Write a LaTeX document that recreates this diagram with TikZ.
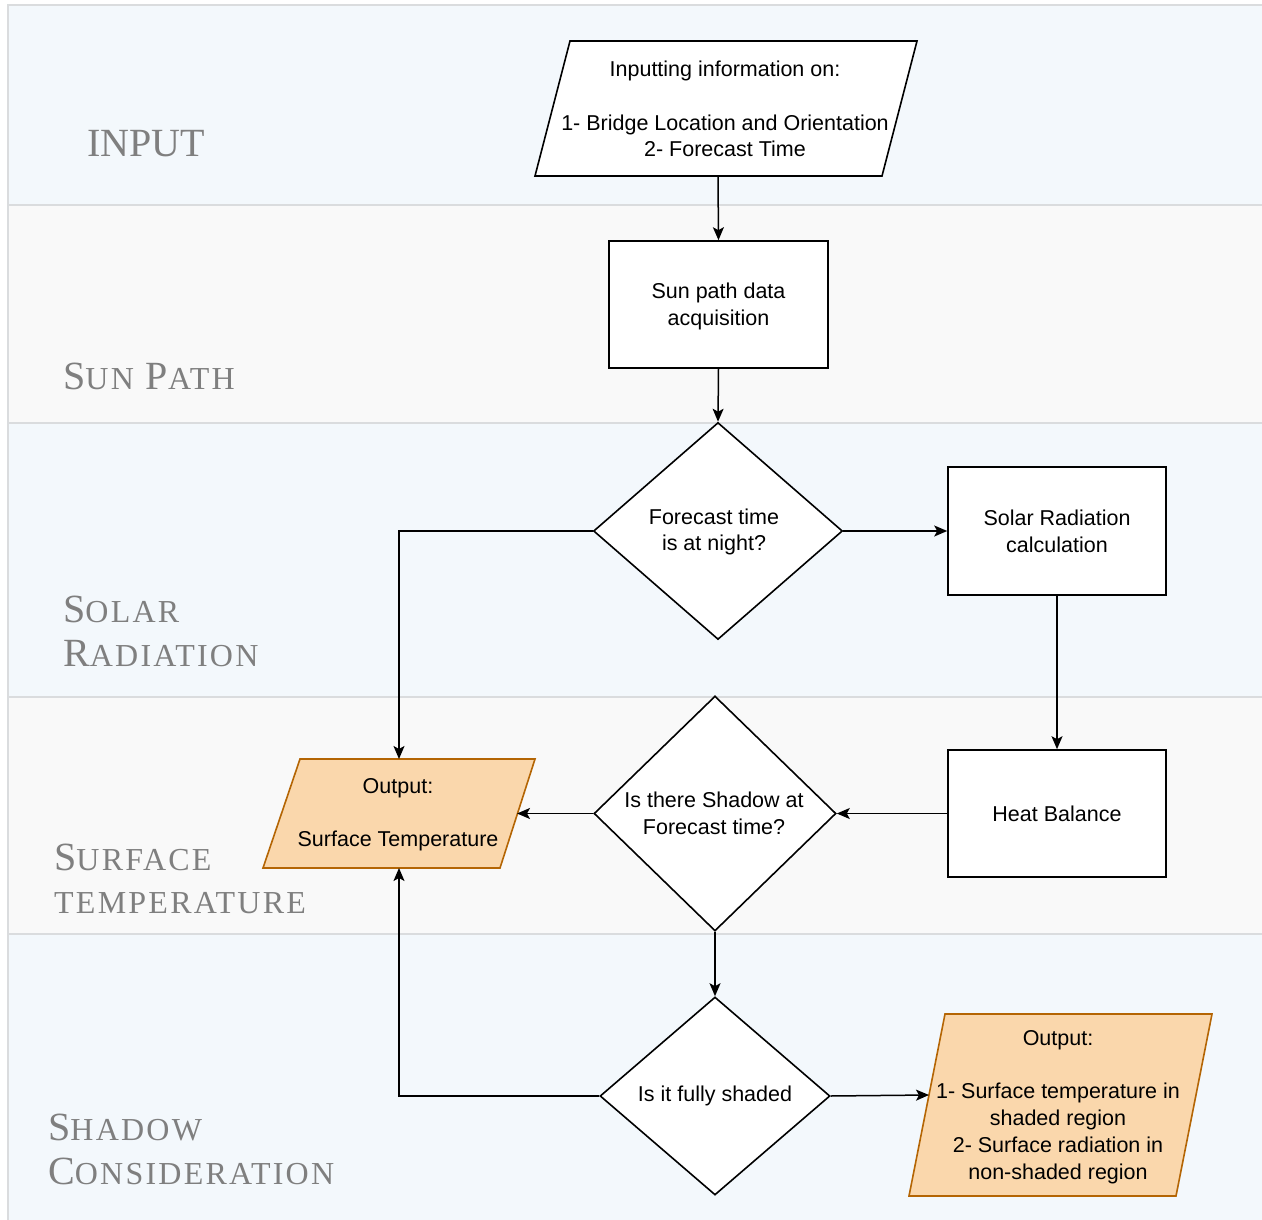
\documentclass[tikz,border=0pt]{standalone}
\usepackage{fontspec}
\setmainfont{Liberation Sans}
\newfontfamily\lanefont{Liberation Serif}
\newfontfamily\lanesmallfont[LetterSpace=7]{Liberation Serif}
\usetikzlibrary{shapes.geometric,arrows.meta}
\definecolor{bandblue}{HTML}{F3F8FC}
\definecolor{bandgray}{HTML}{F9F9F9}
\definecolor{bandline}{HTML}{DADCDE}
\definecolor{lanegray}{HTML}{7F7F7F}
\definecolor{outfill}{HTML}{FAD7AC}
\definecolor{outline}{HTML}{B46504}
\newcommand\lanebig[1]{{\lanefont\fontsize{40}{40}\selectfont #1}}
\newcommand\lanesmall[1]{{\lanesmallfont\fontsize{32}{32}\selectfont #1}}
\newcommand\txtsize{\fontsize{21.5}{26.7}\selectfont}
\begin{document}
\begin{tikzpicture}[x=1pt,y=-1pt,
  box/.style={draw=black, line width=1.6pt, fill=white, inner sep=0pt, align=center, font=\txtsize},
  dia/.style={draw=black, diamond, line width=1.6pt, fill=white, inner sep=0pt},
  txt/.style={align=center, font=\txtsize, inner sep=0pt},
  para/.style={draw=black, line width=1.6pt, fill=white, line join=miter},
  outpara/.style={draw=outline, line width=1.6pt, fill=outfill, line join=miter},
  arr/.style={-{Stealth[length=13pt,width=11pt,inset=3pt]}, line width=1.5pt},
  lane/.style={anchor=base west, text=lanegray, inner sep=0pt, font=\lanefont\fontsize{32}{32}\selectfont},
  band/.style={draw=bandline, line width=1.5pt}
]
\useasboundingbox (0,0) rectangle (1262,1220);
\fill[white] (0,0) rectangle (1262,1220);
% bands
\path[band, fill=bandblue] (8,5) rectangle (1266,205);
\path[band, fill=bandgray] (8,205) rectangle (1266,423);
\path[band, fill=bandblue] (8,423) rectangle (1266,697);
\path[band, fill=bandgray] (8,697) rectangle (1266,934);
\path[band, fill=bandblue] (8,934) rectangle (1266,1226);
% lane labels
\node[lane] (l1) at (87,157) {\lanebig{INPUT}};
\node[lane] (l2) at (63,389) {\lanebig{S}\lanesmall{UN}\hspace{12pt}\lanebig{P}\lanesmall{ATH}};
\node[lane] (l3a) at (63,622) {\lanebig{S}\lanesmall{OLAR}};
\node[lane] (l3b) at (63,666) {\lanebig{R}\lanesmall{ADIATION}};
\node[lane] (l4a) at (54,870) {\lanebig{S}\lanesmall{URFACE}};
\node[lane] (l4b) at (54,913) {\lanesmall{TEMPERATURE}};
\node[lane] (l5a) at (48,1140) {\lanebig{S}\lanesmall{HADOW}};
\node[lane] (l5b) at (48,1184) {\lanebig{C}\lanesmall{ONSIDERATION}};
% input parallelogram
\draw[para] (570,41) -- (917,41) -- (882,176) -- (535,176) -- cycle;
\node[txt] (in) at (725,109) {Inputting information on:\\[26.7pt]1- Bridge Location and Orientation\\2- Forecast Time};
\coordinate (inB) at (718,176);
% boxes
\node[box, minimum width=219pt, minimum height=127pt] (sp) at (718.5,304.5) {};
\node[txt] (spt) at (718.5,306.5) {Sun path data\\acquisition};
\node[box, minimum width=218pt, minimum height=128pt] (sr) at (1057,531) {Solar Radiation\\calculation};
\node[box, minimum width=218pt, minimum height=127pt] (hb) at (1057,813.5) {Heat Balance};
% diamonds
\node[dia, minimum width=249pt, minimum height=217pt] (d1) at (718,531) {};
\node[txt] (d1t) at (714,532) {Forecast time\\is at night?};
\node[dia, minimum width=242pt, minimum height=235pt] (d2) at (715,813.5) {};
\node[txt] (d2t) at (714,813) {Is there Shadow at\\Forecast time?};
\node[dia, minimum width=230pt, minimum height=198pt] (d3) at (715,1096) {};
\node[txt] (d3t) at (715,1096) {Is it fully shaded};
% output 1
\draw[outpara] (300,759) -- (535,759) -- (500,868) -- (263,868) -- cycle;
\node[txt] (o1) at (398,815) {Output:\\[26.7pt]Surface Temperature};
\coordinate (o1T) at (399,759);
\coordinate (o1B) at (399,868);
\coordinate (o1R) at (517,813.5);
% output 2
\draw[outpara] (945,1014) -- (1212,1014) -- (1176,1196) -- (909,1196) -- cycle;
\node[txt] (o2) at (1058,1107) {Output:\\[26.7pt]1- Surface temperature in\\shaded region\\2- Surface radiation in\\non-shaded region};
\coordinate (o2L) at (929,1095);
% connectors
\draw[arr] (inB) -- (sp.north);
\draw[arr] (sp.south) -- (d1.north);
\draw[arr] (d1.east) -- (sr.west);
\draw[arr] (d1.west) -| (o1T);
\draw[arr] (sr.south) -- (hb.north);
\draw[arr] (hb.west) -- (d2.east);
\draw[arr] (d2.west) -- (o1R);
\draw[arr] (d2.south) -- (d3.north);
\draw[arr] (d3.east) -- (o2L);
\draw[arr] (d3.west) -| (o1B);
\end{tikzpicture}
\end{document}
